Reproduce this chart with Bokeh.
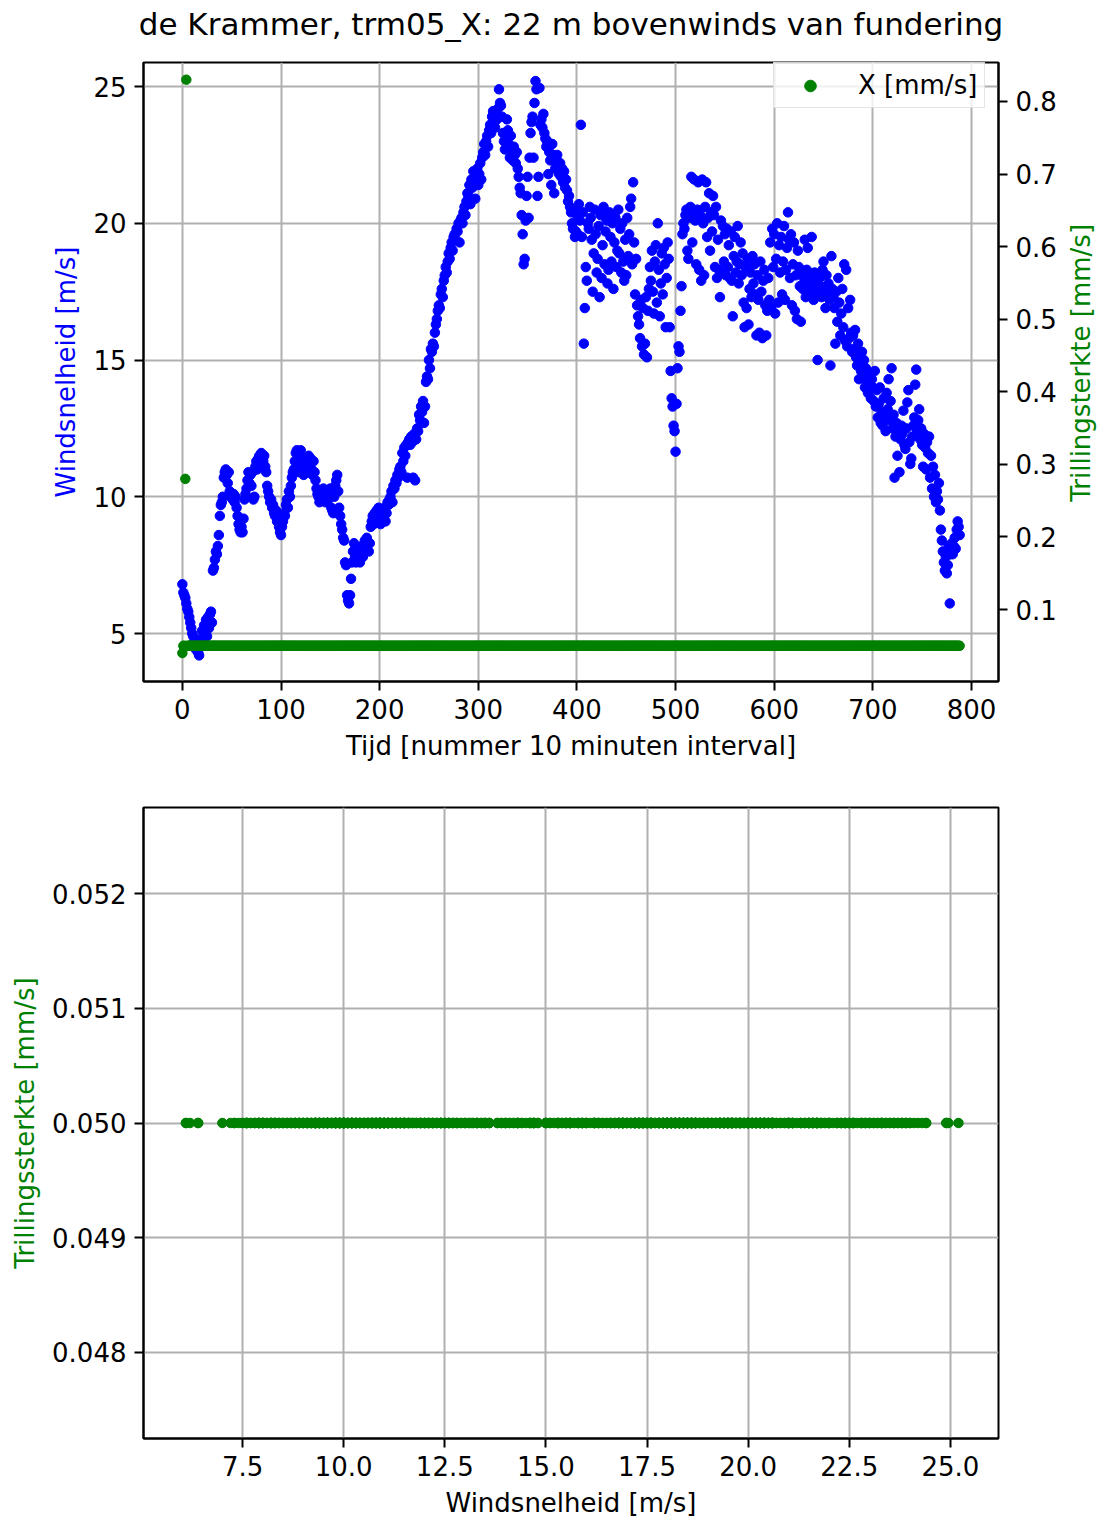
import math
from bokeh.plotting import figure
from bokeh.layouts import column, row
from bokeh.core.properties import value
from bokeh.models import (Range1d, LinearAxis, FixedTicker, PrintfTickFormatter,
                          Legend, LegendItem, Title)
from bokeh.embed import file_html
from bokeh.resources import INLINE

# Windsnelheid per 10-minuten interval [m/s]
windsnelheid = [
    6.8, 6.5, 6.4, 6.3, 6.1, 5.9, 5.8, 5.6, 5.4, 5.2,
    5.0, 4.9, 4.7, 4.5, 4.4, 4.6, 4.3, 4.2, 4.5, 4.8,
    5.1, 4.7, 5.3, 5.0, 5.5, 4.9, 5.6, 5.2, 5.7, 5.8,
    5.4, 7.3, 7.4, 7.7, 8.0, 7.9, 8.2, 8.6, 9.3, 9.7,
    9.8, 10.0, 10.7, 10.9, 11.0, 10.8, 10.5, 10.9, 10.2, 10.0,
    10.0, 9.9, 10.1, 9.8, 10.0, 9.6, 9.3, 9.0, 8.8, 8.7,
    8.9, 8.7, 9.2, 9.9, 10.1, 10.3, 10.6, 10.9, 10.5, 10.8,
    10.4, 10.9, 9.9, 10.0, 11.1, 11.3, 11.0, 11.4, 11.5, 11.2,
    11.6, 11.4, 11.3, 11.5, 11.1, 10.9, 10.4, 10.2, 10.0, 9.8,
    9.9, 9.6, 9.7, 9.4, 9.3, 9.5, 9.1, 9.2, 8.9, 8.7,
    8.6, 8.9, 9.1, 9.4, 9.3, 9.7, 9.9, 9.6, 10.2, 10.0,
    10.4, 10.7, 10.9, 11.0, 11.3, 11.6, 11.7, 11.2, 10.9, 11.0,
    11.7, 11.4, 11.1, 10.8, 10.9, 11.2, 11.0, 11.3, 11.5, 11.1,
    11.4, 11.0, 10.8, 11.3, 10.9, 10.6, 10.3, 10.1, 10.0, 9.8,
    10.2, 10.0, 9.9, 10.3, 10.1, 9.8, 10.0, 10.2, 9.9, 10.1,
    10.3, 9.6, 9.5, 9.4, 10.0, 10.4, 10.6, 10.8, 10.2, 9.6,
    9.3, 9.0, 8.8, 8.5, 8.4, 7.6, 7.5, 6.4, 6.2, 6.1,
    6.4, 7.0, 7.6, 8.0, 8.3, 7.8, 7.6, 7.9, 8.1, 7.7,
    7.6, 7.9, 8.2, 7.8, 8.0, 8.4, 8.2, 8.5, 8.3, 8.0,
    8.3, 8.9, 9.1, 9.3, 9.0, 9.4, 9.2, 9.5, 9.3, 9.6,
    9.2, 9.0, 9.4, 9.5, 9.3, 9.6, 9.1, 9.4, 9.8, 9.7,
    9.9, 10.0, 10.2, 9.8, 10.4, 10.3, 10.6, 10.5, 10.8, 10.7,
    11.0, 11.1, 10.9, 11.6, 11.3, 11.8, 11.5, 11.9, 10.7, 12.0,
    12.1, 11.9, 12.2, 12.0, 10.7, 12.3, 10.6, 12.1, 12.5, 12.4,
    13.0, 12.8, 13.3, 13.1, 13.5, 12.7, 13.3, 14.2, 14.4, 14.3,
    15.0, 14.7, 15.4, 15.3, 15.6, 15.5, 16.0, 16.3, 16.5, 16.8,
    17.0, 16.9, 17.4, 17.6, 17.3, 17.9, 18.1, 18.4, 18.2, 18.6,
    18.9, 18.7, 19.1, 19.3, 19.0, 19.5, 19.6, 19.4, 19.8, 19.7,
    20.0, 19.3, 20.1, 20.2, 20.0, 20.4, 20.6, 20.3, 20.8, 21.1,
    21.0, 21.4, 20.7, 21.6, 21.3, 21.9, 21.5, 20.9, 21.7, 22.0,
    21.4, 21.8, 22.2, 21.6, 22.4, 22.6, 22.9, 22.5, 23.0, 23.2,
    22.8, 23.4, 23.6, 23.3, 23.9, 24.1, 23.7, 23.5, 24.0, 23.8,
    24.2, 24.9, 24.4, 24.3, 23.9, 23.3, 23.0, 22.7, 23.1, 23.8,
    23.4, 22.9, 22.4, 23.2, 22.6, 22.3, 22.8, 22.5, 22.2, 22.6,
    22.0, 21.7, 21.3, 21.1, 20.3, 19.6, 18.5, 18.7, 20.1, 21.0,
    21.7, 20.2, 22.4, 23.3, 23.7, 23.9, 22.4, 24.4, 25.2, 24.9,
    21.0, 21.7, 24.95, 23.6, 23.8, 23.5, 24.0, 23.3, 23.1, 22.8,
    23.0, 21.8, 22.6, 22.3, 21.4, 22.9, 22.5, 21.1, 22.0, 22.3,
    22.5, 22.1, 21.8, 22.2, 21.7, 22.0, 21.5, 21.9, 21.3, 21.6,
    21.2, 20.8, 21.0, 20.6, 20.4, 20.0, 19.8, 20.5, 19.5, 19.7,
    20.3, 19.6, 20.7, 20.1, 23.6, 19.5, 20.4, 15.6, 16.9, 18.4,
    17.9, 20.0, 19.8, 20.6, 20.2, 19.4, 17.5, 18.9, 20.5, 19.6,
    18.2, 18.7, 19.9, 17.3, 20.3, 18.0, 19.2, 20.6, 18.5, 19.7,
    20.1, 17.8, 18.3, 20.4, 19.5, 18.6, 20.0, 17.6, 19.3, 20.2,
    18.4, 19.0, 20.5, 18.9, 19.8, 18.2, 20.0, 18.6, 17.9, 19.4,
    18.1, 20.2, 18.8, 19.6, 20.6, 20.9, 18.5, 21.5, 19.3, 17.4,
    18.7, 17.0, 16.6, 16.3, 15.8, 17.2, 15.5, 16.9, 15.2, 15.6,
    17.3, 15.1, 16.8, 17.6, 18.4, 17.9, 19.0, 17.5, 16.7, 18.6,
    19.2, 17.1, 20.0, 18.3, 16.6, 17.8, 18.9, 17.4, 19.1, 18.5,
    16.2, 18.0, 19.3, 18.7, 16.2, 14.6, 13.6, 13.3, 12.6, 12.4,
    11.65, 13.4, 14.7, 15.5, 15.3, 16.8, 17.7, 19.6, 20.0, 19.8,
    20.3, 20.5, 19.0, 18.7, 20.2, 20.6, 21.7, 19.3, 20.4, 21.6,
    20.1, 18.5, 20.5, 21.5, 18.3, 20.3, 17.9, 21.6, 20.0, 18.1,
    20.6, 21.5, 19.5, 20.2, 21.1, 19.0, 20.4, 19.7, 21.0, 20.3,
    18.4, 20.6, 18.0, 19.4, 18.3, 17.3, 20.1, 18.2, 19.9, 18.6,
    19.6, 18.1, 19.8, 18.4, 19.2, 18.0, 19.7, 17.9, 16.6, 18.8,
    19.5, 18.2, 18.6, 19.9, 17.8, 18.5, 19.3, 18.1, 18.9, 17.1,
    16.2, 18.4, 16.9, 18.7, 16.3, 17.6, 18.2, 17.3, 18.8, 17.8,
    18.5, 17.4, 15.9, 18.1, 17.2, 16.0, 18.6, 17.5, 15.8, 17.9,
    18.3, 17.0, 15.9, 16.8, 18.0, 17.2, 19.3, 16.9, 19.8, 18.4,
    19.6, 16.7, 18.7, 20.0, 17.1, 19.2, 18.2, 19.5, 17.4, 18.6,
    19.9, 17.2, 18.3, 19.1, 20.4, 19.4, 18.0, 19.6, 17.0, 18.5,
    19.3, 16.8, 18.1, 16.5, 19.0, 18.4, 17.7, 16.4, 18.2, 17.6,
    18.0, 19.4, 17.3, 18.3, 19.1, 17.8, 18.1, 17.5, 19.5, 18.0,
    17.2, 18.2, 17.6, 17.9, 15.0, 17.4, 18.0, 17.7, 17.3, 18.3,
    18.6, 17.5, 16.9, 18.1, 17.4, 17.8, 17.2, 14.8, 18.8, 17.6,
    17.3, 16.9, 15.6, 17.5, 16.4, 18.0, 17.1, 15.9, 16.7, 17.6,
    16.2, 18.5, 15.7, 18.3, 15.5, 16.9, 15.8, 17.2, 16.0, 15.3,
    15.9, 15.4, 16.1, 15.1, 14.8, 15.6, 14.3, 15.0, 14.6, 15.3,
    14.4, 15.0, 14.0, 14.7, 14.2, 13.8, 14.5, 14.1, 13.6, 14.3,
    14.0, 13.5, 14.6, 13.3, 13.9, 12.9, 13.4, 14.0, 12.7, 13.1,
    12.6, 13.6, 13.0, 12.4, 13.8, 13.2, 14.3, 12.8, 13.5, 14.7,
    12.5, 13.0, 10.7, 12.2, 12.7, 11.5, 12.4, 10.9, 12.1, 12.6,
    12.3, 13.15, 11.9, 11.75, 12.5, 13.45, 13.9, 12.0, 11.2, 11.4,
    12.2, 12.6, 12.9, 14.1, 14.65, 12.4, 12.8, 13.2, 12.1, 12.5,
    11.9, 11.1, 12.3, 11.8, 11.0, 12.0, 11.6, 12.2, 10.7, 11.5,
    10.3, 11.1, 10.0, 10.8, 9.8, 10.2, 9.9, 10.5, 9.5, 8.8,
    8.4, 8.0, 7.6, 7.3, 7.8, 7.2, 7.5, 8.2, 6.1, 7.9,
    8.3, 7.9, 8.2, 8.5, 8.1, 8.8, 9.1, 8.9, 8.6,
]

# Trillingsterkte X [mm/s]: start-up readings, then a constant floor level
trilling_start = [0.04, 0.05, 0.05, 0.28, 0.83]
trilling_niveau = 0.05
trilling_x = trilling_start + [trilling_niveau] * (len(windsnelheid) - len(trilling_start))

# interval index (nummer 10 minuten interval)
tijd = list(range(len(windsnelheid)))

# the scatter of vibration vs wind leaves out the start-up intervals
eerste_interval = 31
wind_na_start = windsnelheid[eerste_interval:]
trilling_na_start = trilling_x[eerste_interval:]

tijd_ticks = [0, 100, 200, 300, 400, 500, 600, 700, 800]
wind_ticks = [5, 10, 15, 20, 25]
trilling_ticks = [0.1, 0.2, 0.3, 0.4, 0.5, 0.6, 0.7, 0.8]
wind_ticks_onder = [7.5, 10.0, 12.5, 15.0, 17.5, 20.0, 22.5, 25.0]
trilling_ticks_onder = [0.048, 0.049, 0.050, 0.051, 0.052]

FONT = "DejaVu Sans"
TICK_SIZE = "26px"
BLUE = "#0000ff"
GREEN = "#008000"
GRID = "#b0b0b0"
MARKER = 9.5


def style_axis(ax, label_color="black"):
    ax.major_label_text_font = FONT
    ax.major_label_text_font_size = TICK_SIZE
    ax.major_label_text_color = "black"
    ax.axis_label_text_font = FONT
    ax.axis_label_text_font_size = TICK_SIZE
    ax.axis_label_text_font_style = "normal"
    ax.axis_label_text_color = label_color
    ax.axis_label_standoff = 9
    ax.major_label_standoff = 8
    ax.major_tick_in = 0
    ax.major_tick_out = 9
    ax.major_tick_line_width = 2
    ax.major_tick_line_color = "black"
    ax.minor_tick_line_color = None
    ax.axis_line_width = 2
    ax.axis_line_color = "black"


def style_frame(p):
    p.outline_line_color = "black"
    p.outline_line_width = 2
    p.outline_line_alpha = 1.0
    p.background_fill_color = "white"
    p.border_fill_color = "white"
    for g in p.grid:
        g.grid_line_color = GRID
        g.grid_line_width = 2


# ---- top: wind speed and vibration over time ----
p1 = figure(frame_width=855, frame_height=619,
            min_border_left=143, min_border_right=62,
            min_border_top=62, min_border_bottom=100,
            x_range=Range1d(-39.4, 827.4), y_range=Range1d(3.245, 25.88),
            output_backend="svg", toolbar_location=None)

# gap between heading and frame, then the heading itself above it
p1.add_layout(Title(text=" ", text_font_size="14px", standoff=3), "above")
p1.add_layout(Title(text="de Krammer, trm05_X: 22 m bovenwinds van fundering",
                    text_font=FONT, text_font_size="31px", text_font_style="normal",
                    text_color="black", align="center", standoff=0), "above")

p1.extra_y_ranges = {"trilling": Range1d(0.0008, 0.8537)}
as_rechts = LinearAxis(y_range_name="trilling",
                       ticker=FixedTicker(ticks=trilling_ticks),
                       formatter=PrintfTickFormatter(format="%.1f"))
p1.add_layout(as_rechts, "right")

p1.xaxis.ticker = FixedTicker(ticks=tijd_ticks)
p1.xgrid.ticker = FixedTicker(ticks=tijd_ticks)
p1.yaxis[0].ticker = FixedTicker(ticks=wind_ticks)
p1.ygrid.ticker = FixedTicker(ticks=wind_ticks)
p1.xaxis.axis_label = "Tijd [nummer 10 minuten interval]"
p1.yaxis[0].axis_label = "Windsnelheid [m/s]"

style_axis(p1.xaxis[0])
style_axis(p1.yaxis[0], BLUE)
style_axis(as_rechts, GREEN)
style_frame(p1)

p1.scatter(tijd, windsnelheid, size=MARKER, color=BLUE)
r_trilling = p1.scatter(tijd, trilling_x, size=MARKER, color=GREEN,
                        y_range_name="trilling")

legenda = Legend(items=[LegendItem(label="X [mm/s]", renderers=[r_trilling])],
                 location=(630, 573), padding=7, spacing=0,
                 glyph_width=58, glyph_height=29, label_standoff=19,
                 label_text_font=FONT, label_text_font_size=TICK_SIZE,
                 label_text_color="black",
                 border_line_color="#cccccc", border_line_width=1.5,
                 background_fill_color="white", background_fill_alpha=0.8)
p1.add_layout(legenda)

# narrow strip to the right carrying the right-hand axis title (bottom-to-top)
strook = figure(width=48, height=781, x_range=Range1d(0, 48), y_range=Range1d(0, 781),
                min_border=0, x_axis_type=None, y_axis_type=None,
                output_backend="svg", toolbar_location=None)
strook.outline_line_color = None
strook.grid.visible = False
strook.background_fill_color = "white"
strook.border_fill_color = "white"
strook.text(x=[20], y=[402], text=["Trillingsterkte [mm/s]"], angle=math.pi / 2,
            text_align="center", text_baseline="middle",
            text_font=value(FONT), text_font_size=value(TICK_SIZE), text_color=GREEN)

# ---- bottom: vibration versus wind speed ----
p2 = figure(frame_width=855, frame_height=631,
            min_border_left=143, min_border_right=110,
            min_border_top=26, min_border_bottom=86,
            x_range=Range1d(5.05, 26.19), y_range=Range1d(0.04725, 0.05275),
            output_backend="svg", toolbar_location=None)
p2.xaxis.ticker = FixedTicker(ticks=wind_ticks_onder)
p2.xgrid.ticker = FixedTicker(ticks=wind_ticks_onder)
p2.xaxis.formatter = PrintfTickFormatter(format="%.1f")
p2.yaxis.ticker = FixedTicker(ticks=trilling_ticks_onder)
p2.ygrid.ticker = FixedTicker(ticks=trilling_ticks_onder)
p2.yaxis.formatter = PrintfTickFormatter(format="%.3f")
p2.xaxis.axis_label = "Windsnelheid [m/s]"
p2.yaxis.axis_label = "Trillingssterkte [mm/s]"
style_axis(p2.xaxis[0])
style_axis(p2.yaxis[0], GREEN)
style_frame(p2)

p2.scatter(wind_na_start, trilling_na_start, size=MARKER, color=GREEN)

layout = column(row(p1, strook, spacing=0), p2, spacing=0)
open("out.html", "w").write(file_html(layout, INLINE))
